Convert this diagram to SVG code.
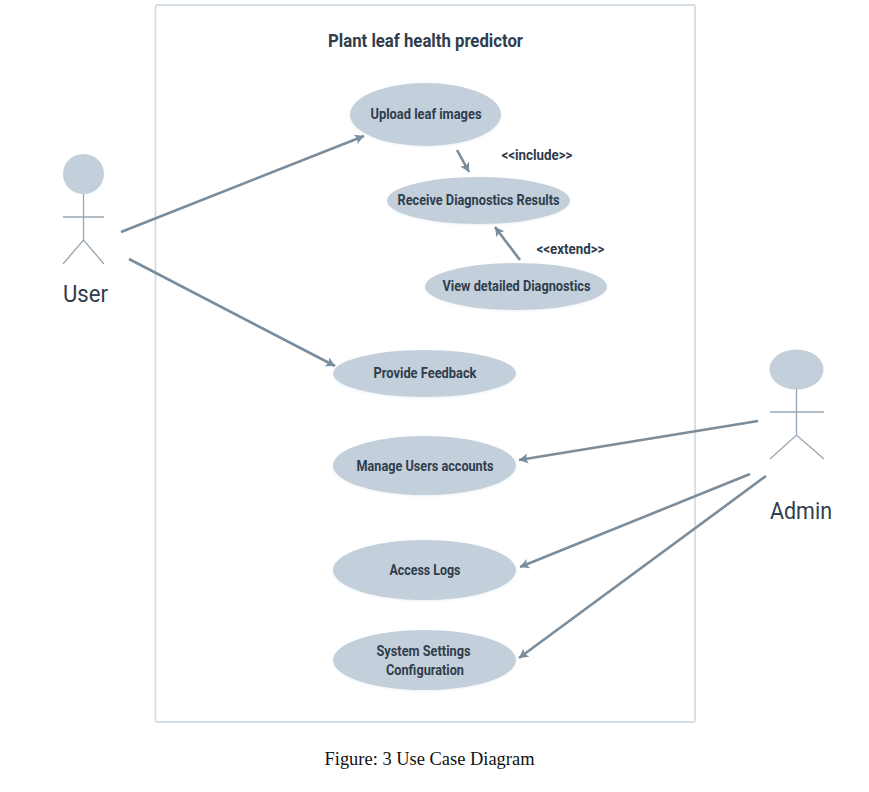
<svg xmlns="http://www.w3.org/2000/svg" width="869" height="792" viewBox="0 0 869 792">
<defs>
<marker id="arrow" markerUnits="userSpaceOnUse" markerWidth="12" markerHeight="12" refX="9" refY="5" orient="auto"><path d="M0 0L9 5L0 10L2 5Z" fill="#7b8c9b"/></marker>
<filter id="soft" x="-10%" y="-10%" width="120%" height="125%"><feDropShadow dx="0" dy="1" stdDeviation="1.200" flood-color="#c3cfda" flood-opacity="0.3"/></filter>
</defs>
<style>
text{font-family:"Roboto","Liberation Sans",sans-serif;fill:#2f3d4c;text-anchor:middle}
.uc{fill:#c3cfda;filter:url(#soft)}
.lb{font-size:15px;font-weight:700}
.st{font-size:14.500px;font-weight:700}
.actor{fill:none;stroke:#98a6b3;stroke-width:1.300}
.head{fill:#c3cfda}
.con{fill:none;stroke:#7b8c9b;stroke-width:2.600;marker-end:url(#arrow)}
</style>
<rect width="869" height="792" fill="#fff"/>
<g id="frame"><rect x="155.500" y="5" width="539.500" height="717" rx="2" fill="none" stroke="#d3dde6" stroke-width="1.800"/>
<text x="425.500" y="47" font-size="18.500" font-weight="700" textLength="195" lengthAdjust="spacingAndGlyphs">Plant leaf health predictor</text></g>
<g id="connectors">
<line class="con" x1="121" y1="232" x2="364" y2="136"/>
<line class="con" x1="129" y1="259" x2="335" y2="366"/>
<line class="con" x1="457" y1="150" x2="469" y2="172"/>
<line class="con" x1="520" y1="260" x2="495" y2="227"/>
<line class="con" x1="758" y1="421" x2="519" y2="460"/>
<line class="con" x1="750" y1="474" x2="520" y2="567"/>
<line class="con" x1="766" y1="476" x2="519" y2="658"/>
</g>
<g id="user"><ellipse class="head" cx="83.500" cy="174" rx="20.500" ry="20"/>
<path class="actor" d="M83.500 194V240M63 217H104M63 264L83.500 240L104 264"/>
<text x="85.500" y="302" font-size="24" font-weight="400" textLength="45" lengthAdjust="spacingAndGlyphs">User</text></g>
<g id="admin"><ellipse class="head" cx="796.500" cy="369.500" rx="27" ry="20"/>
<path class="actor" d="M796.500 389V435M770 412H824M770 459L796.500 435L824 459"/>
<text x="801" y="519" font-size="24" font-weight="400" textLength="62" lengthAdjust="spacingAndGlyphs">Admin</text></g>
<g id="upload"><ellipse class="uc" cx="425.500" cy="114.500" rx="75.500" ry="31.500"/>
<text class="lb" x="426" y="119" textLength="111" lengthAdjust="spacingAndGlyphs">Upload leaf images</text></g>
<g id="receive"><ellipse class="uc" cx="478.500" cy="200.500" rx="91.500" ry="23.500"/>
<text class="lb" x="478.500" y="205" textLength="162" lengthAdjust="spacingAndGlyphs">Receive Diagnostics Results</text></g>
<g id="include-label"><text class="st" x="537" y="160" textLength="71" lengthAdjust="spacingAndGlyphs">&lt;&lt;include&gt;&gt;</text></g>
<g id="view"><ellipse class="uc" cx="516" cy="286.500" rx="91" ry="23.500"/>
<text class="lb" x="516.500" y="291" textLength="148" lengthAdjust="spacingAndGlyphs">View detailed Diagnostics</text></g>
<g id="extend-label"><text class="st" x="570.500" y="254" textLength="68" lengthAdjust="spacingAndGlyphs">&lt;&lt;extend&gt;&gt;</text></g>
<g id="feedback"><ellipse class="uc" cx="424.500" cy="373.500" rx="91.500" ry="23.500"/>
<text class="lb" x="425" y="378" textLength="103" lengthAdjust="spacingAndGlyphs">Provide Feedback</text></g>
<g id="manage"><ellipse class="uc" cx="424.500" cy="465.500" rx="91.500" ry="29.500"/>
<text class="lb" x="425" y="470.500" textLength="137" lengthAdjust="spacingAndGlyphs">Manage Users accounts</text></g>
<g id="logs"><ellipse class="uc" cx="424.500" cy="570" rx="91.500" ry="30"/>
<text class="lb" x="425" y="575" textLength="71" lengthAdjust="spacingAndGlyphs">Access Logs</text></g>
<g id="settings"><ellipse class="uc" cx="424.500" cy="660" rx="91.500" ry="30"/>
<text class="lb" x="423.500" y="656" textLength="94" lengthAdjust="spacingAndGlyphs">System Settings</text>
<text class="lb" x="425" y="675" textLength="78" lengthAdjust="spacingAndGlyphs">Configuration</text></g>
<g id="caption"><text x="429.500" y="765" font-size="18" style="font-family:'Liberation Serif',serif;fill:#111" textLength="210" lengthAdjust="spacingAndGlyphs">Figure: 3 Use Case Diagram</text></g>
</svg>
